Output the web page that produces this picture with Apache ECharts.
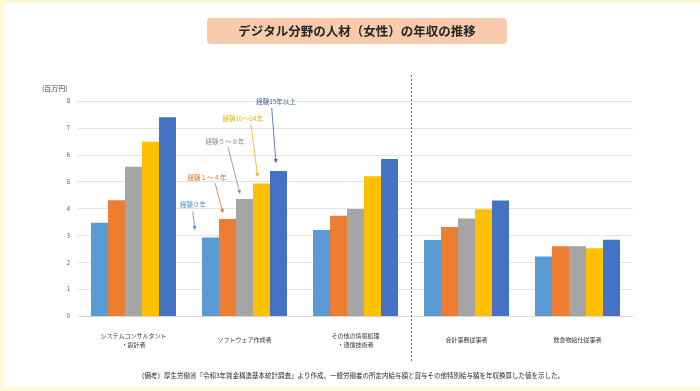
<!DOCTYPE html>
<html><head><meta charset="utf-8">
<script src="https://cdn.jsdelivr.net/npm/echarts@6/dist/echarts.min.js"></script>
<style>html,body{margin:0;padding:0;background:#FFF8D6;}#c{width:700px;height:391px;}</style>
</head><body><div id="c"></div>
<script>
const categories = ['システムコンサルタント\n・設計者','ソフトウェア作成者','その他の情報処理\n・通信技術者','会計事務従事者','飲食物給仕従事者'];
const seriesNames = ['経験０年','経験１～４年','経験５～９年','経験10～14年','経験15年以上'];
const exp0 = [3.47, 2.92, 3.20, 2.83, 2.21];
const exp1to4 = [4.31, 3.61, 3.73, 3.31, 2.60];
const exp5to9 = [5.55, 4.35, 3.98, 3.63, 2.60];
const exp10to14 = [6.48, 4.93, 5.20, 3.97, 2.52];
const exp15plus = [7.40, 5.40, 5.84, 4.30, 2.84];
const yTicks = [0,1,2,3,4,5,6,7,8];
const colors = ['#5B9BD5','#ED7D31','#A5A5A5','#FFC000','#4472C4'];
const labelColors = ['#4F8FCB','#E07328','#8C8C8C','#F0B400','#3A5F9A'];
const font = '"Noto Sans CJK JP", sans-serif';

const chart = echarts.init(document.getElementById('c'));
const values = [exp0, exp1to4, exp5to9, exp10to14, exp15plus];

function arrow(x1,y1,x2,y2,color){
  const a = Math.atan2(y2-y1,x2-x1), L=4, W=2;
  const bx = x2 - L*Math.cos(a), by = y2 - L*Math.sin(a);
  const px = -Math.sin(a)*W, py = Math.cos(a)*W;
  return [
    {type:'line',shape:{x1:x1,y1:y1,x2:bx,y2:by},style:{stroke:color,lineWidth:0.8},z:10},
    {type:'polygon',shape:{points:[[x2,y2],[bx+px,by+py],[bx-px,by-py]]},style:{fill:color},z:10}
  ];
}
const ann = [
  {t:seriesNames[0], x:193, y:205, a:[192.7,211.5,195,230]},
  {t:seriesNames[1], x:207, y:177.7, a:[215,183,223,213]},
  {t:seriesNames[2], x:225, y:141.7, a:[228,147,240,194]},
  {t:seriesNames[3], x:242.7, y:119, a:[251,125,257.7,177]},
  {t:seriesNames[4], x:276, y:102, a:[271.7,108,276,163]}
];
let g = [
  {type:'rect',shape:{x:4,y:3,width:696,height:384},style:{fill:'#FFFFFF'},z:-10},
  {type:'rect',shape:{x:207,y:18,width:300,height:26,r:4},style:{fill:'#F8CBAD'},z:1},
  {type:'text',x:357,y:31,style:{text:'デジタル分野の人材（女性）の年収の推移',font:'bold 12.5px '+font,fill:'#262626',align:'center',verticalAlign:'middle'},z:2},
  {type:'text',x:42,y:88,style:{text:'(百万円)',font:'7px '+font,fill:'#404040',verticalAlign:'middle'},z:2},
  {type:'line',shape:{x1:411.5,y1:75,x2:411.5,y2:362},style:{stroke:'#404040',lineWidth:0.8,lineDash:[2,2]},z:5},
  {type:'text',x:351,y:376,style:{text:'（備考）厚生労働省「令和3年賃金構造基本統計調査」より作成。一般労働者の所定内給与額と賞与その他特別給与額を年収換算した値を示した。',font:'6.5px '+font,fill:'#262626',align:'center',verticalAlign:'middle'},z:2}
];
ann.forEach((d,i)=>{
  g.push({type:'text',x:d.x,y:d.y,style:{text:d.t,font:'6.5px '+font,fill:labelColors[i],align:'center',verticalAlign:'middle'},z:10});
  g = g.concat(arrow(d.a[0],d.a[1],d.a[2],d.a[3],labelColors[i]));
});

chart.setOption({
  animation:false,
  backgroundColor:'transparent',
  color: colors,
  grid:{left:78,right:67,top:101,bottom:75},
  xAxis:{type:'category',data:categories,
    axisLine:{lineStyle:{color:'#D9D9D9'}},axisTick:{show:false},
    axisLabel:{fontFamily:font,fontSize:6,color:'#333',lineHeight:8.5,margin:24,verticalAlign:'middle',interval:0}},
  yAxis:{type:'value',min:0,max:8,interval:1,
    axisLine:{show:false},axisTick:{show:false},
    splitLine:{lineStyle:{color:'#E3E3E3'}},
    axisLabel:{fontFamily:font,fontSize:6,color:'#595959',margin:8,
      formatter:function(v){return yTicks.indexOf(v)>=0?String(v):'';}}},
  series: values.map((v,i)=>({type:'bar',name:seriesNames[i],data:v,barGap:'0%',barCategoryGap:'23.4%',itemStyle:{color:colors[i]}})),
  graphic:g
});
</script></body></html>
